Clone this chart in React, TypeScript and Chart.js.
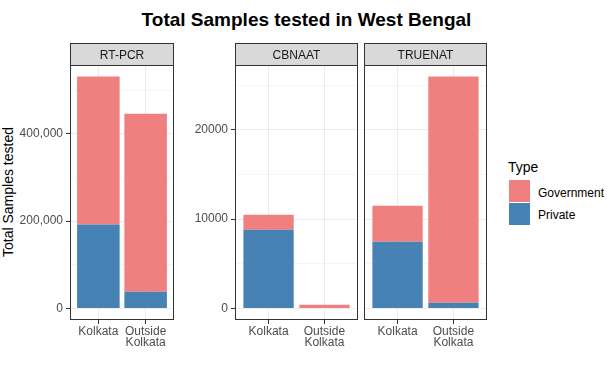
import React, { useEffect, useRef } from 'react';
import { Chart, registerables } from 'chart.js';
Chart.register(...registerables);

const FONT = '"Liberation Sans", Arial, sans-serif';

// ---- data ----
const categories = ['Kolkata', 'Outside Kolkata'];
const seriesNames = ['Government', 'Private'];
const rtpcrPrivate = [192400, 38200];
const rtpcrGovernment = [338400, 407800];
const cbnaatPrivate = [8820, 0];
const cbnaatGovernment = [1680, 420];
const truenatPrivate = [7480, 640];
const truenatGovernment = [4030, 25335];
const rtpcrMajorTicks = [0, 200000, 400000];
const rtpcrMinorTicks = [100000, 300000, 500000];
const otherMajorTicks = [0, 10000, 20000];
const otherMinorTicks = [5000, 15000, 25000];

const GOV_COLOR = '#F08080';
const PRIV_COLOR = '#4682B4';

const totalMax = (a: number[], b: number[]) => Math.max(...a.map((v, i) => v + b[i]));
const rtpcrMax = totalMax(rtpcrPrivate, rtpcrGovernment);
const sharedMax = Math.max(totalMax(cbnaatPrivate, cbnaatGovernment), totalMax(truenatPrivate, truenatGovernment));

const panelPlugin = {
  id: 'panelDeco',
  afterDraw(chart: any) {
    const opts = chart.options.plugins.panelDeco;
    const { ctx, chartArea: a } = chart;
    const stripTop = a.top - 22;
    ctx.save();
    ctx.fillStyle = '#D9D9D9';
    ctx.fillRect(a.left, stripTop, a.right - a.left, a.top - stripTop);
    ctx.strokeStyle = '#333333';
    ctx.lineWidth = 1;
    ctx.strokeRect(a.left + 0.5, stripTop + 0.5, a.right - a.left - 1, a.top - stripTop);
    ctx.strokeRect(a.left + 0.5, a.top + 0.5, a.right - a.left - 1, a.bottom - a.top - 1);
    ctx.fillStyle = '#1A1A1A';
    ctx.font = '12px ' + FONT;
    ctx.textAlign = 'center';
    ctx.textBaseline = 'alphabetic';
    ctx.fillText(opts.label, (a.left + a.right) / 2, a.top - 6);
    ctx.restore();
  },
};

type PanelProps = {
  label: string;
  priv: number[];
  gov: number[];
  max: number;
  major: number[];
  minor: number[];
  left: number;
  width: number;
  yAxisWidth: number;
  padRight: number;
  showY: boolean;
  comma: boolean;
};

function Panel(p: PanelProps) {
  const ref = useRef<HTMLCanvasElement>(null);
  useEffect(() => {
    const majorSet = new Set(p.major);
    const chart = new Chart(ref.current!, {
      type: 'bar',
      data: {
        datasets: [
          {
            label: seriesNames[1],
            data: p.priv.map((v, i) => ({ x: i + 1, y: v })),
            backgroundColor: PRIV_COLOR,
            borderWidth: 0,
            categoryPercentage: 0.9,
            barPercentage: 1,
          },
          {
            label: seriesNames[0],
            data: p.gov.map((v, i) => ({ x: i + 1, y: v })),
            backgroundColor: GOV_COLOR,
            borderWidth: 0,
            categoryPercentage: 0.9,
            barPercentage: 1,
          },
        ],
      } as any,
      plugins: [panelPlugin],
      options: {
        animation: false,
        responsive: false,
        maintainAspectRatio: false,
        layout: { padding: { top: 35, right: p.padRight, bottom: 0, left: 0 } },
        plugins: {
          legend: { display: false },
          title: { display: false },
          tooltip: { enabled: false },
          panelDeco: { label: p.label },
        } as any,
        scales: {
          x: {
            type: 'linear',
            stacked: true,
            offset: false,
            min: 0.4,
            max: 2.6,
            afterBuildTicks: (s: any) => {
              s.ticks = categories.map((_, i) => ({ value: i + 1 }));
            },
            afterFit: (s: any) => {
              s.height = 40;
            },
            border: { display: false },
            grid: {
              offset: false,
              color: '#EBEBEB',
              lineWidth: 1,
              drawTicks: true,
              tickLength: 4,
              tickColor: '#333333',
              tickWidth: 1,
            },
            ticks: {
              autoSkip: false,
              maxRotation: 0,
              padding: 2,
              color: '#4D4D4D',
              font: { family: FONT, size: 12, lineHeight: 0.9 },
              callback: (v: any) => {
                const c = categories[Math.round(Number(v)) - 1] || '';
                return c.split(' ');
              },
            },
          },
          y: {
            type: 'linear',
            stacked: true,
            min: -0.05 * p.max,
            max: 1.05 * p.max,
            afterBuildTicks: (s: any) => {
              s.ticks = [...p.major, ...p.minor].sort((a, b) => a - b).map((v) => ({ value: v }));
            },
            afterFit: (s: any) => {
              s.width = p.yAxisWidth;
            },
            border: { display: false },
            grid: {
              color: '#EBEBEB',
              lineWidth: (c: any) => (c.tick && majorSet.has(c.tick.value) ? 1 : 0.5),
              drawTicks: p.showY,
              tickLength: 4,
              tickColor: (c: any) => (c.tick && majorSet.has(c.tick.value) ? '#333333' : 'rgba(0,0,0,0)'),
              tickWidth: 1,
            },
            ticks: {
              display: p.showY,
              autoSkip: false,
              padding: 3,
              color: '#4D4D4D',
              font: { family: FONT, size: 12 },
              callback: (v: any) => {
                const n = Number(v);
                if (!majorSet.has(n)) return '';
                return p.comma ? n.toLocaleString('en-US') : String(n);
              },
            },
          },
        },
      } as any,
    });
    return () => chart.destroy();
  }, []);
  return (
    <canvas
      ref={ref}
      width={p.width}
      height={330}
      style={{ position: 'absolute', left: p.left, top: 30, width: p.width, height: 330 }}
    />
  );
}

export default function App() {
  return (
    <div
      style={{
        position: 'fixed',
        left: 0,
        top: 0,
        width: 613,
        height: 377,
        background: '#ffffff',
        fontFamily: FONT,
        overflow: 'hidden',
      }}
    >
      <div
        style={{
          position: 'absolute',
          left: 0,
          top: 10,
          width: 613,
          textAlign: 'center',
          fontSize: 19,
          lineHeight: '19px',
          fontWeight: 'bold',
          color: '#000',
          whiteSpace: 'nowrap',
        }}
      >
        Total Samples tested in West Bengal
      </div>
      <div
        style={{
          position: 'absolute',
          left: 7.5 - 100,
          top: 191.7 - 7,
          width: 200,
          height: 14,
          textAlign: 'center',
          fontSize: 14,
          lineHeight: '14px',
          color: '#000',
          whiteSpace: 'nowrap',
          transform: 'rotate(-90deg)',
        }}
      >
        Total Samples tested
      </div>
      <Panel
        label="RT-PCR"
        priv={rtpcrPrivate}
        gov={rtpcrGovernment}
        max={rtpcrMax}
        major={rtpcrMajorTicks}
        minor={rtpcrMinorTicks}
        left={0}
        width={180}
        yAxisWidth={70}
        padRight={6}
        showY={true}
        comma={true}
      />
      <Panel
        label="CBNAAT"
        priv={cbnaatPrivate}
        gov={cbnaatGovernment}
        max={sharedMax}
        major={otherMajorTicks}
        minor={otherMinorTicks}
        left={180}
        width={182}
        yAxisWidth={55}
        padRight={4}
        showY={true}
        comma={false}
      />
      <Panel
        label="TRUENAT"
        priv={truenatPrivate}
        gov={truenatGovernment}
        max={sharedMax}
        major={otherMajorTicks}
        minor={otherMinorTicks}
        left={360}
        width={130}
        yAxisWidth={4}
        padRight={3}
        showY={false}
        comma={false}
      />
      <div style={{ position: 'absolute', left: 508, top: 160, fontSize: 14, lineHeight: '14px', color: '#000' }}>
        Type
      </div>
      <div style={{ position: 'absolute', left: 509, top: 180, width: 21, height: 22, background: GOV_COLOR }} />
      <div style={{ position: 'absolute', left: 509, top: 203, width: 21, height: 22, background: PRIV_COLOR }} />
      <div style={{ position: 'absolute', left: 538, top: 186.5, fontSize: 12, lineHeight: '12px', color: '#000' }}>
        {seriesNames[0]}
      </div>
      <div style={{ position: 'absolute', left: 538, top: 208.5, fontSize: 12, lineHeight: '12px', color: '#000' }}>
        {seriesNames[1]}
      </div>
    </div>
  );
}
